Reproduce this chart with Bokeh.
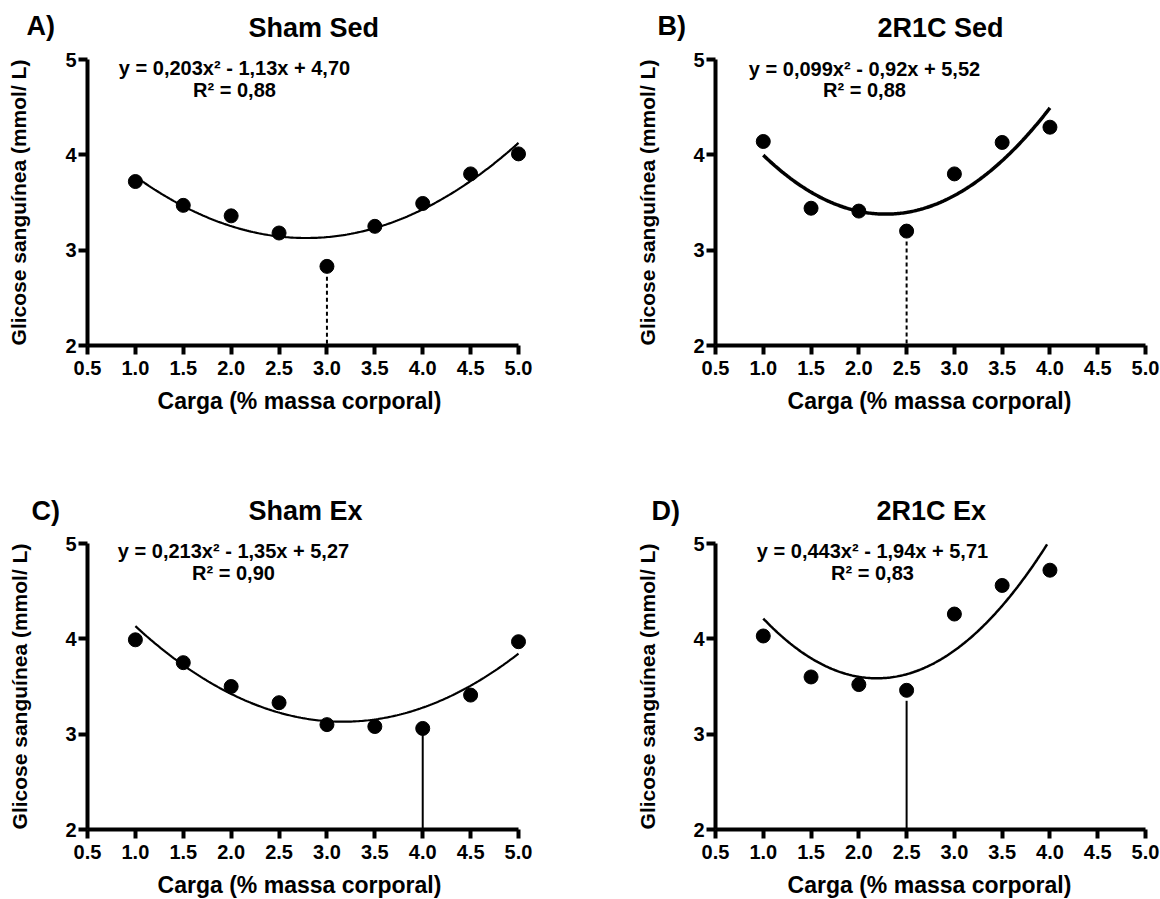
import numpy as np
from bokeh.plotting import figure
from bokeh.models import Range1d, FixedTicker, Label
from bokeh.layouts import column, row
from bokeh.embed import file_html
from bokeh.resources import INLINE

# ---------------- data ----------------
x_ticks = [0.5, 1.0, 1.5, 2.0, 2.5, 3.0, 3.5, 4.0, 4.5, 5.0]
x_tick_labels = ["0.5", "1.0", "1.5", "2.0", "2.5", "3.0", "3.5", "4.0", "4.5", "5.0"]
y_ticks = [2, 3, 4, 5]
y_tick_labels = ["2", "3", "4", "5"]

carga_9 = [1.0, 1.5, 2.0, 2.5, 3.0, 3.5, 4.0, 4.5, 5.0]
carga_7 = [1.0, 1.5, 2.0, 2.5, 3.0, 3.5, 4.0]

sham_sed = [3.72, 3.47, 3.36, 3.18, 2.83, 3.25, 3.49, 3.80, 4.01]
r2c_sed = [4.14, 3.44, 3.41, 3.20, 3.80, 4.13, 4.29]
sham_ex = [3.99, 3.75, 3.50, 3.33, 3.10, 3.08, 3.06, 3.41, 3.97]
r2c_ex = [4.03, 3.60, 3.52, 3.46, 4.26, 4.56, 4.72]

# quadratic fit coefficients (a, b, c) of the drawn curves
sham_sed_fit = [0.203, -1.13, 4.70]
r2c_sed_fit = [0.377, -1.72, 5.34]
sham_ex_fit = [0.213, -1.35, 5.27]
r2c_ex_fit = [0.443, -1.94, 5.71]
fit_x_span = [(1.0, 5.0), (1.0, 4.0), (1.0, 5.0), (1.0, 3.97)]

# vertical marker line: x, top y
drop_lines = [(3.0, 2.72), (2.5, 3.09), (4.0, 2.99), (2.5, 3.35)]

titles = ["Sham Sed", "2R1C Sed", "Sham Ex", "2R1C Ex"]
letters = ["A)", "B)", "C)", "D)"]
equations = [
    "y = 0,203x\u00b2 - 1,13x + 4,70",
    "y = 0,099x\u00b2 - 0,92x + 5,52",
    "y = 0,213x\u00b2 - 1,35x + 5,27",
    "y = 0,443x\u00b2 - 1,94x + 5,71",
]
r2_texts = ["R\u00b2 = 0,88", "R\u00b2 = 0,88", "R\u00b2 = 0,90", "R\u00b2 = 0,83"]
x_label = "Carga (% massa corporal)"
y_label = "Glicose sangu\u00ednea (mmol/ L)"

FONT = "Liberation Sans"
BASE_SHIFT = 0.37  # em correction between wanted baseline and rendered one

# panel geometry (page pixels): canvas box and axis pixel positions
canvas = [(0, 0, 580, 440), (580, 0, 580, 440), (0, 440, 580, 459), (580, 440, 580, 459)]
axis_px = [  # x at 0.5, x at 5.0, y at 5, y at 2
    (87, 518, 59, 345), (715, 1145, 59, 345),
    (87, 518, 543, 829), (715, 1145, 543, 829)]
# text anchor positions (page pixels, baselines)
letter_pos = [(26, 35), (657, 35), (31, 520), (651, 520)]
title_pos = [(248, 37), (877, 37), (248, 520), (876, 520)]
eq_pos = [(234, 75, 97), (864, 76, 97), (233, 558, 580), (872, 558, 580)]
xlab_pos = [(299, 409), (929, 409), (299, 893), (929, 893)]
ylab_pos = [(26, 202), (655, 202), (27, 686), (655, 686)]


def make_panel(i, xs, ys, fit):
    cx0, cy0, cw, ch = canvas[i]
    ax0, ax1, ay5, ay2 = axis_px[i]
    sx = (ax1 - ax0) / 4.5
    sy = (ay2 - ay5) / 3.0
    x_start = 0.5 - (ax0 - cx0) / sx
    x_end = 0.5 + (cx0 + cw - ax0) / sx
    y_start = 2 - (cy0 + ch - ay2) / sy
    y_end = 2 + (ay2 - cy0) / sy

    def dx(px):
        return 0.5 + (px - ax0) / sx

    def dy(py):
        return 2 + (ay2 - py) / sy

    p = figure(width=cw, height=ch,
               x_range=Range1d(x_start, x_end), y_range=Range1d(y_start, y_end),
               output_backend="svg", toolbar_location=None,
               min_border=0, min_border_left=0, min_border_right=0,
               min_border_top=0, min_border_bottom=0)
    p.outline_line_color = None
    p.grid.visible = False
    p.background_fill_color = "white"
    p.border_fill_color = "white"

    for ax, ticks, labels, bounds, loc in ((p.xaxis[0], x_ticks, x_tick_labels, (0.5, 5.0), 2.0),
                                           (p.yaxis[0], y_ticks, y_tick_labels, (2, 5), 0.5)):
        ax.fixed_location = loc
        ax.ticker = FixedTicker(ticks=ticks)
        ax.major_label_overrides = {t: l for t, l in zip(ticks, labels)}
        ax.bounds = bounds
        ax.axis_line_width = 4
        ax.axis_line_color = "black"
        ax.major_tick_line_width = 4
        ax.major_tick_line_color = "black"
        ax.major_tick_out = 9
        ax.major_tick_in = 0
        ax.minor_tick_line_color = None
        ax.major_label_text_font = FONT
        ax.major_label_text_font_style = "bold"
        ax.major_label_text_font_size = "20px"
        ax.major_label_text_color = "black"
    p.xaxis[0].major_label_standoff = 6
    p.yaxis[0].major_label_standoff = 2

    # fit curve
    a, b, c = fit
    x0, x1 = fit_x_span[i]
    cxs = np.linspace(x0, x1, 200)
    cys = a * cxs ** 2 + b * cxs + c
    p.line(cxs, cys, line_color="black", line_width=[2.2, 3.5, 2.2, 2.5][i])

    # vertical line
    lx, ltop = drop_lines[i]
    p.segment(x0=[lx], y0=[ltop], x1=[lx], y1=[2.0], line_color="black",
              line_width=2, line_dash="4 3" if i < 2 else "solid")

    p.scatter(xs, ys, size=14, color="black")

    def lab(text, px, py, size, align="left", rotated=False):
        shift = BASE_SHIFT * size
        if rotated:
            px = px - shift
        else:
            py = py - shift
        p.add_layout(Label(x=dx(px), y=dy(py), text=text,
                           text_font=FONT, text_font_style="bold",
                           text_font_size=f"{size}px", text_color="black",
                           text_align=align, text_baseline="alphabetic",
                           angle=np.pi / 2 if rotated else 0.0))

    lab(letters[i], letter_pos[i][0], letter_pos[i][1], 27)
    lab(titles[i], title_pos[i][0], title_pos[i][1], 27)
    ex, e1, e2 = eq_pos[i]
    lab(equations[i], ex, e1, 20, align="center")
    lab(r2_texts[i], ex, e2, 20, align="center")
    lab(x_label, xlab_pos[i][0], xlab_pos[i][1], 23, align="center")
    lab(y_label, ylab_pos[i][0], ylab_pos[i][1], 21, align="center", rotated=True)
    return p


pa = make_panel(0, carga_9, sham_sed, sham_sed_fit)
pb = make_panel(1, carga_7, r2c_sed, r2c_sed_fit)
pc = make_panel(2, carga_9, sham_ex, sham_ex_fit)
pd = make_panel(3, carga_7, r2c_ex, r2c_ex_fit)

layout = column(row(pa, pb), row(pc, pd))
open("out.html", "w").write(file_html(layout, INLINE))
